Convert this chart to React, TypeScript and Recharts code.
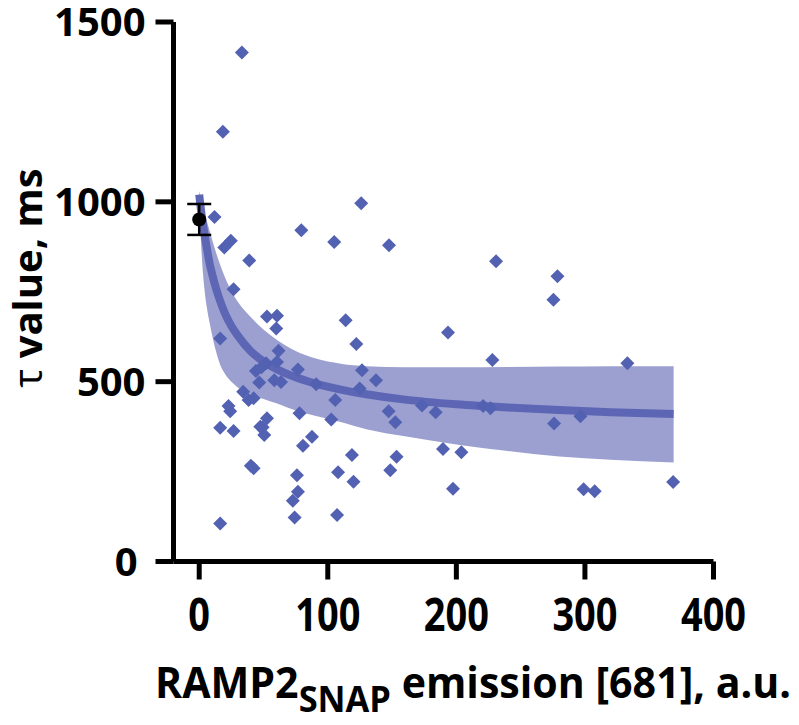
import { ComposedChart, Area, Line, Scatter, XAxis, YAxis, ErrorBar, Label } from "recharts";

// fitted curve and its confidence band
const FIT_X = [0, 2, 4, 6, 8, 10, 13, 16, 20, 25, 30, 40, 50, 60, 75, 90, 110, 130, 160, 200, 240, 280, 320, 369];
const FIT_Y = [1020, 960, 912, 870, 830, 800, 760, 727, 690, 655, 628, 585, 556, 535, 512, 495, 478, 465, 450, 437, 428, 421, 415, 410];
const BAND_HI = [1030, 1000, 970, 945, 920, 895, 860, 828, 790, 752, 722, 680, 645, 617, 585, 565, 550, 543, 540, 540, 541, 542, 543, 543];
const BAND_LO = [1010, 850, 760, 705, 665, 630, 585, 550, 522, 500, 484, 465, 452, 440, 420, 405, 388, 368, 348, 325, 307, 292, 283, 275];

// individual cells
const PTS_X = [
  33.2, 18.4, 11.9, 24.6, 19.5, 38.9, 79.4, 105, 126, 147.6, 26.7, 230.9, 278.6, 275.5, 193.5, 228, 333, 137.5, 147.3, 152.5,
  173.3, 183.9, 220.8, 226.5, 276, 296.5, 153.5, 148.6, 189.6, 203.9, 197.4, 299, 307.6, 368.6, 52.7, 60.5, 59.9, 113.9, 122.2, 16.3,
  61.7, 60.5, 52, 48.5, 44.1, 76.8, 126.6, 46.7, 58.4, 63.6, 91, 124.8, 34.2, 38.4, 42.3, 105.8, 22.8, 24.1, 78, 52.7,
  47.5, 102.7, 16.3, 26.7, 49.3, 50.6, 87.7, 80.7, 118.8, 40.2, 42.3, 76, 108, 120, 76.8, 72.8, 74.2, 107.2, 16.3,
];
const PTS_Y = [
  1415, 1195, 958, 892, 873, 837, 921, 888, 996, 879, 757, 835, 793, 728, 637, 560, 551, 504, 418, 387,
  434, 415, 432, 426, 384, 404, 291, 254, 313, 304, 202, 201, 195, 221, 681, 683, 648, 671, 605, 620,
  586, 555, 551, 540, 530, 534, 532, 498, 504, 499, 493, 481, 472, 449, 454, 449, 432, 418, 412, 398,
  375, 395, 372, 363, 373, 352, 347, 322, 296, 266, 259, 240, 248, 222, 194, 169, 122, 129, 106,
];

// untransfected control (mean ± SEM)
const CTRL_X = [0];
const CTRL_Y = [951];
const CTRL_ERR = [43];

const X_TICKS = [0, 100, 200, 300, 400];
const Y_TICKS = [0, 500, 1000, 1500];

const curve = FIT_X.map((x, i) => ({ x, fit: FIT_Y[i], band: [BAND_LO[i], BAND_HI[i]] }));
const points = PTS_X.map((x, i) => ({ x, y: PTS_Y[i] }));
const control = CTRL_X.map((x, i) => ({ x, y: CTRL_Y[i], err: CTRL_ERR[i] }));

const FONT = "'Open Sans', 'Noto Sans', sans-serif";
const DOT = "#5361b2";

const Diamond = (props: any) => {
  const { cx, cy } = props;
  const r = 7;
  return <polygon points={`${cx},${cy - r} ${cx + r},${cy} ${cx},${cy + r} ${cx - r},${cy}`} fill={DOT} />;
};

const BlackDot = (props: any) => <circle cx={props.cx} cy={props.cy} r={7} fill="#000" />;

const XTick = (props: any) => {
  const { x, y, payload } = props;
  const s = String(payload.value);
  return (
    <text x={x} y={y + 51} textAnchor="middle" fontFamily={FONT} fontWeight={700} fontSize={46}
      textLength={s.length * 21.7} lengthAdjust="spacingAndGlyphs" fill="#000">
      {s}
    </text>
  );
};

const YTick = (props: any) => {
  const { x, y, payload } = props;
  const shift = payload.value === 0 ? -8 : 0;
  return (
    <text x={x + shift} y={y + 14} textAnchor="end" fontFamily={FONT} fontWeight={700} fontSize={40} fill="#000">
      {payload.value}
    </text>
  );
};

export default function App() {
  return (
    <div style={{ position: "absolute", left: 0, top: 0, background: "#fff" }}>
      <ComposedChart width={799} height={725} data={curve} margin={{ top: 22, right: 85.5, left: 0, bottom: 103.5 }}>
        <XAxis
          dataKey="x"
          type="number"
          domain={[-20, 400]}
          ticks={X_TICKS}
          allowDataOverflow
          height={60}
          axisLine={{ stroke: "#000", strokeWidth: 5 }}
          tickLine={{ stroke: "#000", strokeWidth: 5 }}
          tickSize={18}
          tickMargin={0}
          tick={<XTick />}
        >
          <Label
            content={() => (
              <text x={155} y={698} textLength={636} lengthAdjust="spacingAndGlyphs" fontFamily={FONT}
                fontWeight={700} fontSize={43} fill="#000">
                RAMP2
                <tspan fontSize={36} dy={14}>SNAP</tspan>
                <tspan fontSize={43} dy={-14}> emission [681], a.u.</tspan>
              </text>
            )}
          />
        </XAxis>
        <YAxis
          type="number"
          domain={[0, 1500]}
          ticks={Y_TICKS}
          width={173.5}
          axisLine={{ stroke: "#000", strokeWidth: 5 }}
          tickLine={{ stroke: "#000", strokeWidth: 5 }}
          tickSize={18}
          tickMargin={10}
          tick={<YTick />}
        >
          <Label
            content={() => (
              <text x={42} y={278} transform="rotate(-90, 42, 278)" textAnchor="middle" fontFamily={FONT}
                fontWeight={700} fontSize={40} fill="#000">
                <tspan fontWeight={400}>τ</tspan> value, ms
              </text>
            )}
          />
        </YAxis>
        <Area dataKey="band" type="monotone" stroke="none" fill="#9ba0d0" fillOpacity={1} isAnimationActive={false} />
        <Line dataKey="fit" type="monotone" stroke="#5d66b4" strokeWidth={8} dot={false} isAnimationActive={false} />
        <Scatter data={points} dataKey="y" shape={<Diamond />} isAnimationActive={false} />
        <Scatter data={control} dataKey="y" shape={<BlackDot />} isAnimationActive={false}>
          <ErrorBar dataKey="err" direction="y" width={12} stroke="#000" strokeWidth={2.5} />
        </Scatter>
      </ComposedChart>
    </div>
  );
}
